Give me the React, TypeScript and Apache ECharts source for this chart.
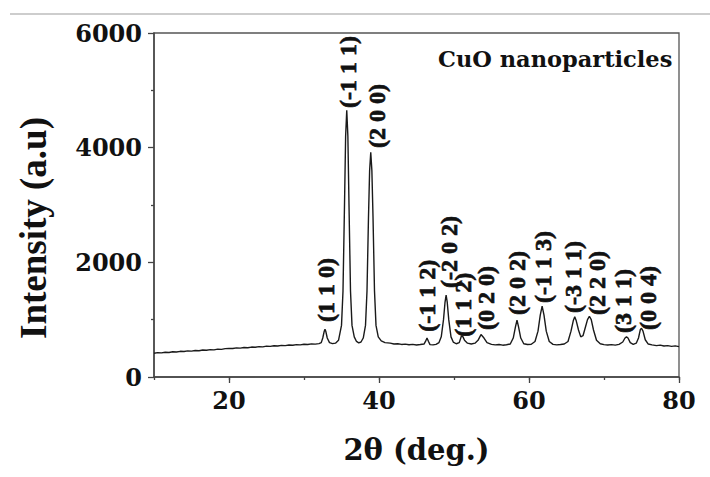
import React, { useEffect, useRef } from "react";
import * as echarts from "echarts";

const twoTheta: number[] = [
  10, 10.5, 11, 11.5, 12, 12.5, 13, 13.5, 14, 14.5, 15, 15.5, 16, 16.5, 17, 17.5, 18, 18.5, 19, 19.5,
  20, 20.5, 21, 21.5, 22, 22.5, 23, 23.5, 24, 24.5, 25, 25.5, 26, 26.5, 27, 27.5, 28, 28.5, 29, 29.5,
  30, 30.5, 31, 31.5, 32, 32.3, 32.5, 32.7, 32.8, 32.9, 33.1, 33.4, 33.8, 34.2, 34.6, 35, 35.2, 35.4,
  35.55, 35.7, 35.85, 36, 36.2, 36.4, 36.7, 37, 37.3, 37.6, 37.9, 38.2, 38.4, 38.6, 38.75, 38.9, 39.05,
  39.2, 39.4, 39.6, 39.9, 40.3, 40.8, 41.5, 42, 42.5, 43, 43.5, 44, 44.5, 45, 45.5, 46, 46.2, 46.4, 46.6,
  46.8, 47.2, 47.6, 48, 48.3, 48.6, 48.8, 48.95, 49.1, 49.3, 49.6, 49.9, 50.3, 50.7, 51, 51.2, 51.4, 51.8,
  52.3, 52.8, 53.2, 53.6, 54, 54.4, 55, 55.5, 56, 56.5, 57, 57.5, 57.9, 58.2, 58.4, 58.6, 58.9, 59.3,
  59.8, 60.3, 60.8, 61.2, 61.5, 61.75, 62, 62.3, 62.7, 63.2, 63.7, 64.2, 64.7, 65.2, 65.6, 65.9, 66.1,
  66.3, 66.6, 66.9, 67.2, 67.5, 67.8, 68.05, 68.3, 68.6, 69, 69.5, 70, 70.5, 71, 71.5, 72, 72.5, 72.8,
  73, 73.2, 73.5, 73.9, 74.3, 74.6, 74.85, 75, 75.2, 75.5, 75.9, 76.4, 77, 77.5, 78, 78.5, 79, 79.5, 80,
];

const intensity: number[] = [
  415, 425, 420, 432, 428, 440, 436, 448, 445, 455, 452, 462, 458, 470, 466, 478, 474, 486, 482, 494,
  500, 496, 508, 504, 515, 510, 522, 518, 530, 526, 538, 534, 545, 540, 552, 548, 558, 553, 565, 560,
  572, 567, 578, 574, 582, 600, 680, 800, 835, 800, 680, 600, 582, 590, 640, 900, 1500, 3000,
  4200, 4650, 4200, 3000, 1500, 900, 700, 620, 595, 610, 680, 900, 1500, 2800, 3600, 3920, 3600,
  2800, 1500, 900, 700, 630, 600, 590, 575, 580, 568, 574, 562, 570, 558, 566, 575, 620, 680, 620,
  565, 560, 570, 600, 700, 1000, 1300, 1430, 1300, 1000, 700, 610, 580, 600, 720, 700, 640, 590,
  575, 590, 640, 740, 680, 600, 570, 560, 566, 555, 562, 575, 680, 880, 990, 880, 680, 580,
  566, 572, 620, 800, 1080, 1235, 1080, 800, 620, 570, 560, 566, 575, 620, 800, 980, 1050,
  980, 820, 700, 720, 860, 1000, 1060, 1000, 820, 640, 580, 565, 558, 565, 555, 570, 610, 680,
  700, 680, 600, 570, 590, 680, 830, 850, 800, 650, 575, 560, 548, 556, 540, 548, 535, 542, 530,
];

const peakLabels: string[] = [
  "(1 1 0)", "(-1 1 1)", "(2 0 0)", "(-1 1 2)", "(-2 0 2)", "(1 1 2)", "(0 2 0)",
  "(2 0 2)", "(-1 1 3)", "(-3 1 1)", "(2 2 0)", "(3 1 1)", "(0 0 4)",
];
const peakLabelTheta: number[] = [32.9, 35.8, 39.7, 46.4, 49.3, 51.2, 54.3, 58.4, 61.9, 65.8, 69.1, 72.5, 75.9];
const peakLabelIntensity: number[] = [959, 4692, 3994, 790, 1552, 703, 820, 1081, 1291, 1116, 1081, 767, 820];

const yTicks = { min: 0, max: 6000, step: 2000 };
const xRange = { min: 10, max: 80 };

export default function App() {
  const ref = useRef<HTMLDivElement>(null);
  useEffect(() => {
    if (!ref.current) return;
    const chart = echarts.init(ref.current, undefined, { renderer: "svg" });
    const lineData = twoTheta.map((t, i) => [t, intensity[i]]);
    const labelData = peakLabelTheta.map((t, i) => [t, peakLabelIntensity[i]]);
    const tickFont = { fontFamily: "DejaVu Serif", fontWeight: "bold" as const, fontSize: 24, color: "#111" };
    chart.setOption({
      animation: false,
      backgroundColor: "#ffffff",
      grid: [
        { left: 154, top: 33, width: 525, height: 344, show: true, borderColor: "#555", borderWidth: 1.3, backgroundColor: "transparent" },
        { left: 229, top: 33, width: 450, height: 344, show: false },
      ],
      xAxis: [
        {
          type: "value", gridIndex: 0, min: xRange.min, max: xRange.max, interval: 10,
          axisLine: { show: true, lineStyle: { color: "#444", width: 1.5 } },
          axisTick: { show: true, length: 3, lineStyle: { color: "#444", width: 1.3 } },
          axisLabel: { show: false },
          splitLine: { show: false },
          name: "2θ (deg.)", nameLocation: "middle", nameGap: 58,
          nameTextStyle: { fontFamily: "DejaVu Serif", fontWeight: "bold", fontSize: 29, color: "#111" },
        },
        {
          type: "value", gridIndex: 1, min: 20, max: 80, interval: 20,
          axisLine: { show: false },
          axisTick: { show: true, length: 6, lineStyle: { color: "#444", width: 1.3 } },
          axisLabel: { ...tickFont, margin: 11 },
          splitLine: { show: false },
        },
      ],
      yAxis: [
        {
          type: "value", gridIndex: 0, min: yTicks.min, max: yTicks.max, interval: yTicks.step,
          axisLine: { show: true, lineStyle: { color: "#444", width: 1.5 } },
          axisTick: { show: true, length: 6, lineStyle: { color: "#444", width: 1.3 } },
          minorTick: { show: true, splitNumber: 2, length: 3, lineStyle: { color: "#444", width: 1.3 } },
          axisLabel: { ...tickFont, margin: 12, formatter: (v: number) => String(v) },
          splitLine: { show: false },
          name: "Intensity (a.u)", nameLocation: "middle", nameGap: 102,
          nameTextStyle: { fontFamily: "Liberation Serif", fontWeight: "bold", fontSize: 37, color: "#111", padding: [0, 46, 0, 0] },
        },
        { type: "value", gridIndex: 1, show: false, min: 0, max: 6000 },
      ],
      series: [
        {
          type: "line", xAxisIndex: 0, yAxisIndex: 0, data: lineData, symbol: "none",
          lineStyle: { color: "#1a1a1a", width: 1.4 },
        },
        {
          type: "custom", xAxisIndex: 0, yAxisIndex: 0, data: labelData,
          renderItem: (params: any, api: any) => {
            const p = api.coord([api.value(0), api.value(1)]);
            return {
              type: "text",
              x: p[0],
              y: p[1],
              rotation: Math.PI / 2,
              style: {
                text: peakLabels[params.dataIndex],
                fontFamily: "Liberation Serif",
                fontWeight: "bold",
                fontSize: 24,
                fill: "#111",
                stroke: "#111",
                lineWidth: 0.7,
                align: "left",
                verticalAlign: "middle",
              },
            };
          },
        },
      ],
      graphic: [
        { type: "line", shape: { x1: 10, y1: 14, x2: 710, y2: 14 }, style: { stroke: "#bdbdbd", lineWidth: 1.5 } },
        {
          type: "text", left: 438, top: 47,
          style: { text: "CuO nanoparticles", fontFamily: "DejaVu Serif", fontWeight: "bold", fontSize: 22.5, fill: "#111" },
        },
      ],
    });
    return () => chart.dispose();
  }, []);
  return <div ref={ref} style={{ position: "fixed", left: 0, top: 0, width: 710, height: 477 }} />;
}
